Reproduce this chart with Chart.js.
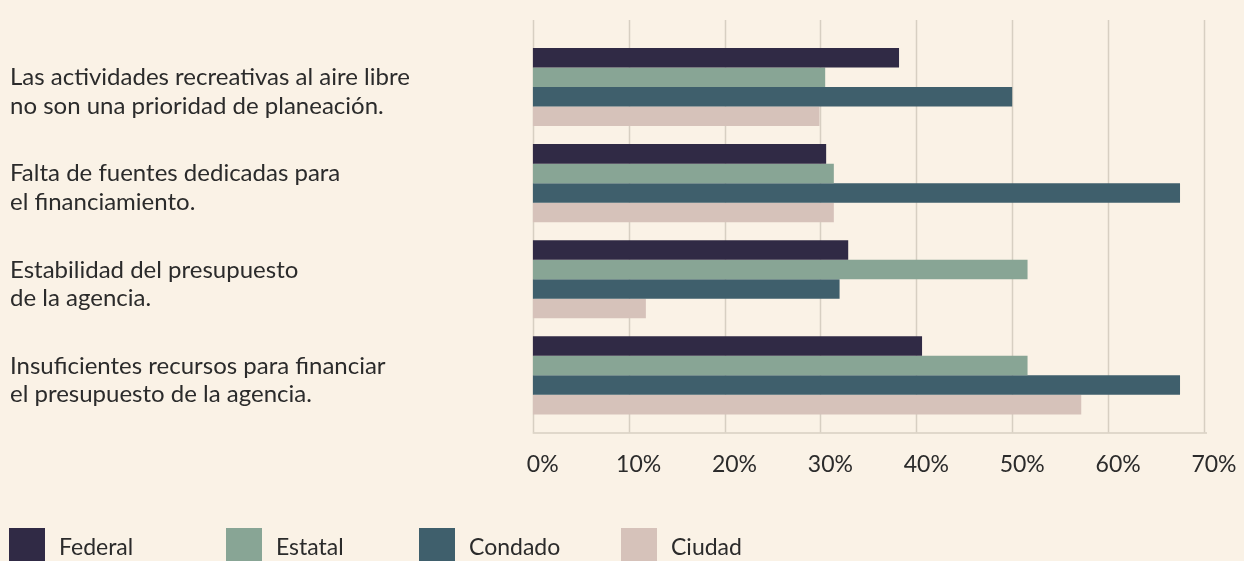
<!DOCTYPE html>
<html>
<head>
<meta charset="utf-8">
<script src="https://cdn.jsdelivr.net/npm/chart.js@4/dist/chart.umd.min.js"></script>
<style>
  html, body { margin: 0; padding: 0; background: #faf2e6; }
  #wrap { position: relative; width: 1244px; height: 561px; overflow: hidden; }
  #myChart { position: absolute; left: 0; top: 0; }
  #legend { position: absolute; left: 9px; top: 528px; display: flex; font-family: Lato, sans-serif; font-size: 23px; color: #2b2b2b; }
  .item { display: flex; align-items: center; height: 36px; }
  .item:nth-child(1) { width: 217px; }
  .item:nth-child(2) { width: 193px; }
  .item:nth-child(3) { width: 202px; }
  .box { width: 36px; height: 36px; margin-right: 14px; }
</style>
</head>
<body>
<div id="wrap">
  <canvas id="myChart" width="1244" height="561"></canvas>
  <div id="legend"></div>
</div>
<script>
var categories = [
    ["Las actividades recreativas al aire libre", "no son una prioridad de planeación."],
    ["Falta de fuentes dedicadas para", "el financiamiento."],
    ["Estabilidad del presupuesto", "de la agencia."],
    ["Insuficientes recursos para financiar", "el presupuesto de la agencia."]
];
var seriesNames = ["Federal", "Estatal", "Condado", "Ciudad"];
var seriesColors = ['#302a45', '#88a595', '#3f5f6c', '#d6c2ba'];

var federal = [38.2, 30.6, 32.9, 40.6];
var estatal = [30.5, 31.4, 51.6, 51.6];
var condado = [50.0, 67.5, 32.0, 67.5];
var ciudad = [29.9, 31.4, 11.8, 57.2];

var xTicks = [0, 10, 20, 30, 40, 50, 60, 70];

var allSeries = [federal, estatal, condado, ciudad];

var gridColor = '#d7cfc2';
var textColor = '#2b2b2b';

// vertical grid lines that run a bit past the bar area, plus the base line
var gridPlugin = {
    id: 'longGrid',
    beforeDatasetsDraw: function (chart) {
        var c = chart.ctx;
        var area = chart.chartArea;
        var xs = chart.scales.x;
        c.save();
        c.strokeStyle = gridColor;
        c.lineWidth = 1.5;
        xs.ticks.forEach(function (t) {
            var px = Math.round(xs.getPixelForValue(t.value)) + 0.5;
            c.beginPath();
            c.moveTo(px, area.top - 19);
            c.lineTo(px, area.bottom + 9);
            c.stroke();
        });
        c.beginPath();
        c.moveTo(xs.getPixelForValue(xTicks[0]), area.bottom + 9.5);
        c.lineTo(xs.getPixelForValue(xTicks[xTicks.length - 1]) + 3, area.bottom + 9.5);
        c.stroke();
        c.restore();
    }
};

var config = {
    type: 'bar',
    data: {
        labels: categories,
        datasets: seriesNames.map(function (name, i) {
            return {
                label: name,
                data: allSeries[i],
                backgroundColor: seriesColors[i],
                borderWidth: 0,
                categoryPercentage: 0.8125,
                barPercentage: 1.0
            };
        })
    },
    options: {
        indexAxis: 'y',
        responsive: false,
        animation: false,
        layout: {
            padding: { left: 10, right: 40, top: 39, bottom: 64 }
        },
        plugins: {
            legend: { display: false },
            tooltip: { enabled: false }
        },
        scales: {
            x: {
                min: 0,
                max: 70,
                afterBuildTicks: function (scale) {
                    scale.ticks = xTicks.map(function (v) { return { value: v }; });
                },
                afterFit: function (scale) {
                    scale.paddingLeft = 0;
                    scale.paddingRight = 0;
                },
                grid: { display: false },
                border: { display: false },
                ticks: {
                    callback: function (v) { return v + '%'; },
                    color: textColor,
                    font: { family: 'Lato', size: 23 },
                    padding: 19,
                    labelOffset: 10,
                    maxRotation: 0
                }
            },
            y: {
                grid: { display: false },
                border: { display: false },
                afterFit: function (scale) { scale.width = 522.7; },
                ticks: {
                    crossAlign: 'far',
                    labelOffset: 5,
                    color: textColor,
                    font: { family: 'Lato', size: 24, lineHeight: 1.2 }
                }
            }
        }
    },
    plugins: [gridPlugin]
};

var myChart = new Chart(document.getElementById('myChart'), config);

var legend = document.getElementById('legend');
seriesNames.forEach(function (name, i) {
    var item = document.createElement('div');
    item.className = 'item';
    var box = document.createElement('div');
    box.className = 'box';
    box.style.background = seriesColors[i];
    var txt = document.createElement('span');
    txt.textContent = name;
    item.appendChild(box);
    item.appendChild(txt);
    legend.appendChild(item);
});
</script>
</body>
</html>
